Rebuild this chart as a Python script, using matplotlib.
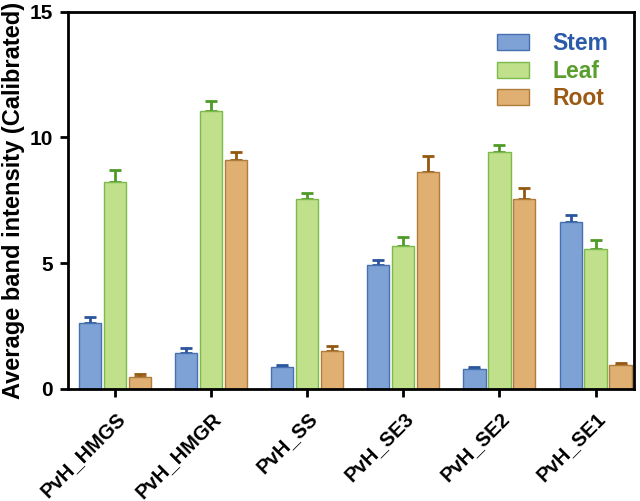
import numpy as np
import matplotlib
matplotlib.use("Agg")
import matplotlib.pyplot as plt

plt.rcParams['font.family'] = ['Liberation Sans', 'DejaVu Sans']
plt.rcParams['font.weight'] = 'bold'

# Data
genes = ["PvH_HMGS", "PvH_HMGR", "PvH_SS", "PvH_SE3", "PvH_SE2", "PvH_SE1"]
stem = [2.61, 1.42, 0.87, 4.91, 0.78, 6.65]
stem_err = [0.24, 0.20, 0.10, 0.21, 0.10, 0.25]
leaf = [8.24, 11.03, 7.55, 5.69, 9.40, 5.57]
leaf_err = [0.47, 0.40, 0.24, 0.34, 0.28, 0.35]
root = [0.48, 9.11, 1.51, 8.64, 7.56, 0.94]
root_err = [0.10, 0.32, 0.21, 0.62, 0.44, 0.10]

series = [
    ("Stem", stem, stem_err, "#7EA2D6", "#4670B0", "#2B559C", "#2B5BA8"),
    ("Leaf", leaf, leaf_err, "#C0E08C", "#7DBA4C", "#4E9A28", "#5A9E2E"),
    ("Root", root, root_err, "#DFB072", "#B07C3C", "#94580E", "#9A5A14"),
]

fig = plt.figure(figsize=(6.4, 5.01), dpi=100)
ax = fig.add_axes([0.106, 0.2236, 0.885, 0.7534])

x = np.arange(len(genes))
step = 0.26
width = 0.23
handles = []
for i, (name, vals, errs, fc, ec, errc, tc) in enumerate(series):
    pos = x + (i - 1) * step
    b = ax.bar(pos, vals, width, color=fc, edgecolor=ec, linewidth=1.0,
               label=name, zorder=2)
    ax.errorbar(pos, vals, yerr=[np.zeros(len(errs)), errs], fmt='none',
                ecolor=errc, elinewidth=2, capsize=4.5, capthick=2, zorder=1)
    handles.append(b)

ax.set_xlim(-0.493, 5.403)
ax.set_ylim(0, 15)
ax.set_yticks([0, 5, 10, 15])
ax.set_xticks(x)
ax.set_xticklabels(genes, rotation=45, ha='right', rotation_mode='anchor',
                   fontsize=14.5, fontweight='bold')
ax.tick_params(axis='both', direction='out', length=6, width=2)
ax.tick_params(axis='y', labelsize=15, pad=5)
ax.tick_params(axis='x', pad=8)
for lbl in ax.get_yticklabels():
    lbl.set_fontweight('bold')
for s in ax.spines.values():
    s.set_linewidth(2)

ax.set_ylabel("Average band intensity (Calibrated)", fontsize=17,
              fontweight='bold', labelpad=3)

leg = ax.legend(handles=handles, loc='upper right', bbox_to_anchor=(0.99, 1.0),
                frameon=False, fontsize=16.5, handlelength=1.4, handleheight=0.7,
                labelspacing=0.2, handletextpad=1.0)
for t, s in zip(leg.get_texts(), series):
    t.set_color(s[6])
    t.set_fontweight('bold')

fig.savefig("out.png", dpi=100)
